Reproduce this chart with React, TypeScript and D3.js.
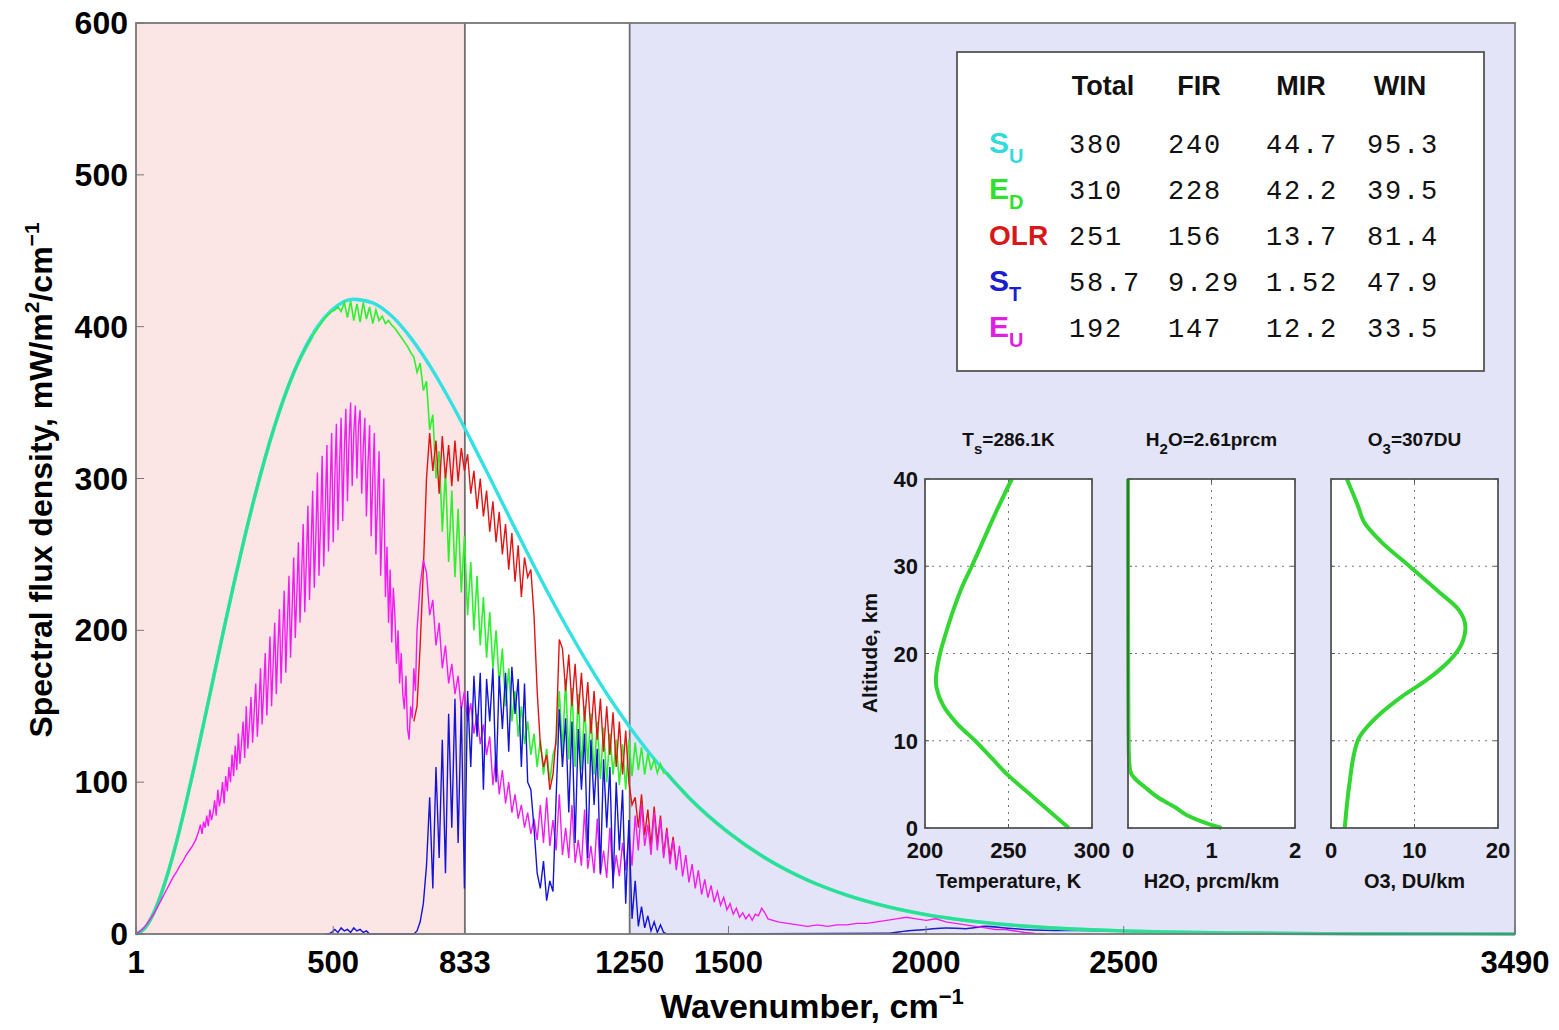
import React from 'react';
import * as d3 from 'd3';

// ---------------- data ----------------
const X_TICKS = [1, 500, 833, 1250, 1500, 2000, 2500, 3490];
const Y_TICKS = [0, 100, 200, 300, 400, 500, 600];
const BAND_EDGES = [1, 833, 1250, 3490];
const BAND_COLORS = ['#fce5e5', '#ffffff', '#e4e4f8'];

// S_U (surface upward), smooth
const SU_NU = [0, 25, 50, 75, 100, 125, 150, 175, 200, 225, 250, 275, 300, 350, 400, 450, 500, 550, 600, 650, 700, 750, 800, 850, 900, 950, 1000, 1050, 1100, 1150, 1200, 1250, 1300, 1400, 1500, 1600, 1700, 1800, 1900, 2000, 2100, 2200, 2300, 2400, 2500, 2600, 2800, 3000, 3200, 3490];
const SU_VAL = [0, 4.4, 16.4, 34.5, 57.2, 83.5, 112.1, 142.1, 172.6, 203.0, 232.4, 260.5, 286.9, 333.3, 369.8, 395.9, 411.7, 418.1, 415.7, 406.5, 391.3, 371.9, 349.2, 324.3, 298.5, 272.3, 246.5, 221.5, 197.9, 175.7, 155.1, 136.4, 119.2, 90.0, 67.0, 49.1, 35.6, 25.6, 18.2, 12.8, 9.0, 6.25, 4.3, 2.97, 2.03, 1.38, 0.63, 0.28, 0.12, 0.04];

// E_D (downward emission)
const ED_LEFT_NU = [0, 25, 50, 75, 100, 125, 150, 175, 200, 225, 250, 275, 300, 350, 400, 448];
const ED_LEFT_VAL = [0, 4.4, 16.3, 34.4, 57.0, 83.3, 111.9, 141.9, 172.3, 202.7, 232.0, 260.1, 286.5, 333.0, 369.5, 394];
const ED_MID_START = 448;
const ED_MID_STEP = 8;
const ED_MID_VAL = [
  394, 397, 400, 403, 406, 408, 410, 411, 413,
  410, 416, 406, 417, 404, 415, 403, 416, 405, 413, 402, 411, 404, 407, 402, 404,
  401, 399, 396, 393, 390, 387, 383,
  380, 370, 376, 358, 364, 332, 342, 300, 318, 265, 305, 245, 292, 235, 280, 225, 262, 210, 245, 200, 236, 190, 222, 182, 212, 175, 200, 165, 188, 150, 175, 140, 160, 130, 150, 125, 140, 118, 132, 110, 128, 105, 122, 100, 118, 125,
  160, 120, 168, 115, 162, 110, 158, 108, 150, 112, 145, 105, 140, 102, 136, 100, 132, 105, 128, 98, 125, 95,
  128, 104, 126, 108, 123, 105, 119, 108, 115, 106, 112, 106, 106,
];
const ED_RIGHT_NU = [1344, 1400, 1500, 1600, 1700, 1800, 1900, 2000, 2100, 2200, 2300, 2400, 2500, 2600, 2800, 3000, 3200, 3490];
const ED_RIGHT_VAL = [106, 89.5, 66.6, 48.8, 35.4, 25.5, 18.1, 12.7, 8.9, 6.2, 4.3, 2.95, 2.0, 1.36, 0.62, 0.27, 0.11, 0.03];

// OLR
const OLR_START = 704;
const OLR_STEP = 8;
const OLR_VAL = [
  140, 150, 190, 240, 300, 330, 305, 325, 290, 328,
  300, 322, 295, 325, 298, 320, 305, 316, 290, 305,
  280, 300, 275, 292, 265, 285, 258, 278, 250, 270,
  240, 264, 232, 256, 222, 248, 235, 240, 210, 160,
  125, 110, 118, 95, 105, 130, 194, 188, 160, 184,
  150, 178, 145, 172, 140, 166, 132, 160, 128, 155,
  120, 150, 118, 146, 110, 140, 105, 134, 100, 85,
  90, 70, 92, 65, 82, 58, 84, 60, 78, 52,
  70, 50, 64, 45,
];

// S_T (transmitted surface flux)
const ST_START = 480;
const ST_STEP = 8;
const ST_VAL = [
  0, 0, 1, 3, 1, 4, 2, 3, 1, 4,
  2, 3, 1, 2, 0, 0, 0, 0, 0, 0,
  0, 0, 0, 0, 0, 0, 0, 0, 0, 2,
  8, 20, 45, 90, 30, 110, 50, 128, 40, 145,
  70, 155, 60, 150, 30, 160, 110, 170, 130, 172,
  95, 168, 140, 175, 100, 170, 135, 172, 120, 176,
  145, 168, 110, 165, 100, 95, 70, 40, 30, 48,
  22, 35, 28, 90, 148, 110, 142, 80, 140, 60,
  135, 95, 132, 50, 128, 85, 122, 40, 115, 70,
  110, 30, 100, 55, 95, 20, 75, 10, 35, 5,
  18, 4, 12, 2, 8, 1, 6, 1, 0,
];
const ST_TAIL_NU = [1344, 1400, 1900, 1950, 2000, 2050, 2100, 2150, 2200, 2250, 2300, 2350, 2400, 2500, 2600, 2800, 3000, 3200, 3490];
const ST_TAIL_VAL = [0, 0, 0.5, 2, 3, 4, 3.5, 5, 4, 3, 2.5, 2.3, 2.4, 1.8, 1.3, 0.6, 0.27, 0.11, 0.03];

// E_U (upward atmospheric emission)
const EU_LOW_START = 0;
const EU_LOW_STEP = 8;
const EU_LOW_VAL = [0, 1, 3, 5, 8, 11, 14, 18, 22, 26, 30, 34, 38, 41, 45, 48, 52, 55, 58, 62];
const EU_FIR_START = 160;
const EU_FIR_STEP = 4;
const EU_FIR_VAL = [
  68, 72, 66, 74, 70, 78, 71, 82, 75, 80,
  88, 78, 95, 84, 90, 100, 86, 104, 94, 110,
  100, 118, 104, 124, 108, 132, 112, 126, 140, 116,
  150, 122, 138, 156, 126, 146, 165, 130, 150, 175,
  138, 160, 185, 144, 170, 196, 150, 178, 205, 158,
  188, 214, 165, 196, 226, 172, 205, 236, 182, 214,
  248, 195, 224, 258, 205, 236, 270, 212, 246, 282,
  220, 256, 292, 228, 262, 304, 236, 270, 315, 242,
  280, 322, 252, 290, 330, 258, 300, 336, 266, 310,
  340, 272, 318, 346, 285, 325, 350, 295, 330, 348,
  300, 335, 345, 290, 320, 340, 275, 310, 335, 262,
  300, 330, 250, 285, 318, 236, 270, 300, 222, 255,
  205, 240, 192, 228, 210, 178, 200, 165, 185, 158,
  148, 170, 135, 128, 150, 142, 175, 160, 200, 215,
];
const EU_MID_START = 720;
const EU_MID_STEP = 8;
const EU_MID_VAL = [
  230, 246, 238, 210, 220, 190, 205, 175, 190, 165,
  178, 158, 170, 148, 160, 140, 152, 132, 145, 125,
  138, 118, 130, 98, 118, 92, 108, 86, 100, 80,
  92, 76, 85, 70, 80, 66, 76, 62, 85, 60,
  90, 58, 75, 55, 92, 52, 70, 50, 85, 47,
  62, 45, 82, 43, 58, 40, 76, 39, 55, 37,
  70, 36, 52, 38, 60, 42, 66, 45, 78, 55,
  85, 58, 72, 52, 80, 55, 76, 50, 68, 46,
  62, 42, 58, 38, 52, 34, 46, 30, 42, 26,
  36, 24, 32, 21, 28, 19, 24, 16, 20, 13,
  17, 11, 14, 10, 13, 9, 13, 12, 17, 14,
  10,
];
const EU_TAIL_START = 1625;
const EU_TAIL_STEP = 25;
const EU_TAIL_VAL = [8, 7, 6, 5, 6, 5, 6, 6, 7, 7, 8, 9, 10, 11, 10, 9, 10, 8, 7, 6, 5, 4, 3, 3, 2, 1, 0.4, 0];

// table
const TABLE_COLS = ['Total', 'FIR', 'MIR', 'WIN'];
const TABLE_ROWS = [
  { main: 'S', sub: 'U', color: '#33dada', vals: ['380', '240', '44.7', '95.3'] },
  { main: 'E', sub: 'D', color: '#2fe02f', vals: ['310', '228', '42.2', '39.5'] },
  { main: 'OLR', sub: '', color: '#d81818', vals: ['251', '156', '13.7', '81.4'] },
  { main: 'S', sub: 'T', color: '#1c1cd0', vals: ['58.7', '9.29', '1.52', '47.9'] },
  { main: 'E', sub: 'U', color: '#e020e0', vals: ['192', '147', '12.2', '33.5'] },
];

// profiles
const T_ALT = [0, 2, 4, 6, 8, 10, 12, 14, 16, 17, 18, 20, 22, 25, 28, 30, 33, 36, 40];
const T_VAL = [286.1, 274, 262, 250, 240, 230, 219, 211, 207, 206.5, 207, 209, 212, 217, 223, 228, 235, 242, 252];
const H2O_ALT = [0, 0.8, 1.5, 2.4, 3.5, 4.7, 5.5, 6.2, 7, 8.5, 12, 20, 40];
const H2O_VAL = [1.12, 0.87, 0.7, 0.56, 0.36, 0.2, 0.1, 0.04, 0.02, 0.01, 0.005, 0.002, 0];
const O3_ALT = [0, 5, 10, 13, 15, 17, 19, 21, 23, 25, 27, 30, 33, 35, 37, 40];
const O3_VAL = [1.65, 2.2, 3.2, 5.8, 8.4, 11.5, 14, 15.6, 16.1, 15.3, 13, 9.4, 5.8, 4.0, 3.2, 1.9];

const INSETS = [
  { x0: 925, domain: [200, 300], ticks: [200, 250, 300], alt: T_ALT, vals: T_VAL, title: ['T', 's', '=286.1K'], label: 'Temperature, K' },
  { x0: 1128, domain: [0, 2], ticks: [0, 1, 2], alt: H2O_ALT, vals: H2O_VAL, title: ['H', '2', 'O=2.61prcm'], label: 'H2O, prcm/km' },
  { x0: 1331, domain: [0, 20], ticks: [0, 10, 20], alt: O3_ALT, vals: O3_VAL, title: ['O', '3', '=307DU'], label: 'O3, DU/km' },
];
const ALT_TICKS = [0, 10, 20, 30, 40];

// ---------------- helpers ----------------
type P = [number, number];
const fromStep = (start: number, step: number, vals: number[]): P[] => vals.map((v, i) => [start + i * step, v]);
const fromPairs = (nu: number[], vals: number[]): P[] => nu.map((n, i) => [n, vals[i]]);

const FONT = '"Liberation Sans", Arial, sans-serif';
const MONO = '"Liberation Mono", "Courier New", monospace';

export default function App() {
  const x = d3.scaleLinear().domain([1, 3490]).range([136, 1515]);
  const y = d3.scaleLinear().domain([0, 600]).range([934, 23]);
  const clampX = (n: number) => Math.max(1, n);

  const lin = d3.line<P>().x(d => x(clampX(d[0]))).y(d => y(d[1]));
  const smooth = d3.line<P>().x(d => x(clampX(d[0]))).y(d => y(d[1])).curve(d3.curveMonotoneX);

  const su = fromPairs(SU_NU, SU_VAL);
  const edLeft = fromPairs(ED_LEFT_NU, ED_LEFT_VAL);
  const edMid = fromStep(ED_MID_START, ED_MID_STEP, ED_MID_VAL);
  const edRight = fromPairs(ED_RIGHT_NU, ED_RIGHT_VAL);
  const olr = fromStep(OLR_START, OLR_STEP, OLR_VAL);
  const st = fromStep(ST_START, ST_STEP, ST_VAL);
  const stTail = fromPairs(ST_TAIL_NU, ST_TAIL_VAL);
  const eu = [
    ...fromStep(EU_LOW_START, EU_LOW_STEP, EU_LOW_VAL),
    ...fromStep(EU_FIR_START, EU_FIR_STEP, EU_FIR_VAL),
    ...fromStep(EU_MID_START, EU_MID_STEP, EU_MID_VAL),
    ...fromStep(EU_TAIL_START, EU_TAIL_STEP, EU_TAIL_VAL),
  ];

  const bands = BAND_COLORS.map((c, i) => ({ c, x0: x(BAND_EDGES[i]), x1: x(BAND_EDGES[i + 1]) }));

  // insets
  const iy = d3.scaleLinear().domain([0, 40]).range([828, 479]);
  const insetW = 167;

  return (
    <svg width={1559} height={1030} style={{ position: 'absolute', left: 0, top: 0, background: '#fff' }}>
      {/* background bands */}
      {bands.map((b, i) => (
        <rect key={i} x={b.x0} y={y(600)} width={b.x1 - b.x0} height={y(0) - y(600)} fill={b.c} />
      ))}
      {[833, 1250].map(v => (
        <line key={v} x1={x(v)} x2={x(v)} y1={y(600)} y2={y(0)} stroke="#6e6e6e" strokeWidth={1.8} />
      ))}

      {/* spectra */}
      <path d={smooth(stTail) || ''} fill="none" stroke="#1c1cc8" strokeWidth={1.6} />
      <path d={smooth(su) || ''} fill="none" stroke="#35e0e0" strokeWidth={3.4} />
      <path d={smooth(edLeft) || ''} fill="none" stroke="#22e060" strokeWidth={3.4} opacity={0.6} />
      <path d={smooth(edRight) || ''} fill="none" stroke="#22e060" strokeWidth={3.4} opacity={0.6} />
      <path d={lin(edMid) || ''} fill="none" stroke="#2ef02e" strokeWidth={1.6} />
      <path d={lin(olr) || ''} fill="none" stroke="#e01414" strokeWidth={1.4} />
      <path d={lin(eu) || ''} fill="none" stroke="#f21cf2" strokeWidth={1.4} />
      <path d={lin(st) || ''} fill="none" stroke="#1414d8" strokeWidth={1.4} />

      {/* frame */}
      <rect x={x(1)} y={y(600)} width={x(3490) - x(1)} height={y(0) - y(600)} fill="none" stroke="#777" strokeWidth={1.8} />
      {X_TICKS.map(t => (
        <g key={t}>
          <line x1={x(t)} x2={x(t)} y1={y(0)} y2={y(0) - 8} stroke="#777" strokeWidth={1} />
          <text x={x(t)} y={y(0) + 39} textAnchor="middle" fontFamily={FONT} fontWeight="bold" fontSize={31} fill="#000">{t}</text>
        </g>
      ))}
      {Y_TICKS.map(t => (
        <g key={t}>
          <line x1={x(1)} x2={x(1) + 8} y1={y(t)} y2={y(t)} stroke="#777" strokeWidth={1} />
          <text x={128} y={y(t) + 11} textAnchor="end" fontFamily={FONT} fontWeight="bold" fontSize={32} fill="#000">{t}</text>
        </g>
      ))}
      <text x={812} y={1018} textAnchor="middle" fontFamily={FONT} fontWeight="bold" fontSize={34} fill="#000">
        Wavenumber, cm<tspan dy={-14} fontSize={22}>−1</tspan>
      </text>
      <text transform="translate(52,480) rotate(-90)" textAnchor="middle" fontFamily={FONT} fontWeight="bold" fontSize={32} fill="#000">
        Spectral flux density, mW/m<tspan dy={-13} fontSize={21}>2</tspan><tspan dy={13}>/cm</tspan><tspan dy={-13} fontSize={21}>−1</tspan>
      </text>

      {/* table */}
      <rect x={957} y={52} width={527} height={319} fill="#fff" stroke="#555" strokeWidth={1.8} />
      {TABLE_COLS.map((c, i) => (
        <text key={c} x={[1103, 1199, 1301, 1400][i]} y={95} textAnchor="middle" fontFamily={FONT} fontWeight="bold" fontSize={27} fill="#111">{c}</text>
      ))}
      {TABLE_ROWS.map((r, i) => {
        const by = 153 + i * 46;
        return (
          <g key={i}>
            <text x={989} y={by} fontFamily={FONT} fontWeight="bold" fontSize={r.sub ? 30 : 28} fill={r.color}>
              {r.main}
              {r.sub && <tspan dy={10} fontSize={20}>{r.sub}</tspan>}
            </text>
            {r.vals.map((v, j) => (
              <text key={j} x={[1069, 1168, 1266, 1367][j]} y={by} fontFamily={MONO} fontSize={27} letterSpacing={1.8} fill="#111">{v}</text>
            ))}
          </g>
        );
      })}

      {/* insets */}
      {INSETS.map((ins, k) => {
        const ix = d3.scaleLinear().domain(ins.domain).range([ins.x0, ins.x0 + insetW]);
        const pts: P[] = ins.alt.map((a, i) => [ins.vals[i], a]);
        const line = d3.line<P>().x(d => ix(d[0])).y(d => iy(d[1])).curve(d3.curveMonotoneY);
        const cx = ins.x0 + insetW / 2;
        return (
          <g key={k}>
            <rect x={ins.x0} y={iy(40)} width={insetW} height={iy(0) - iy(40)} fill="#fff" />
            {[10, 20, 30].map(a => (
              <line key={a} x1={ins.x0} x2={ins.x0 + insetW} y1={iy(a)} y2={iy(a)} stroke="#777" strokeWidth={1} strokeDasharray="2,5" />
            ))}
            <line x1={ix(ins.ticks[1])} x2={ix(ins.ticks[1])} y1={iy(0)} y2={iy(40)} stroke="#777" strokeWidth={1} strokeDasharray="2,5" />
            {ALT_TICKS.map(a => (
              <g key={a}>
                <line x1={ins.x0} x2={ins.x0 + 4} y1={iy(a)} y2={iy(a)} stroke="#555" />
                <line x1={ins.x0 + insetW - 4} x2={ins.x0 + insetW} y1={iy(a)} y2={iy(a)} stroke="#555" />
              </g>
            ))}
            {ins.ticks.map(t => (
              <g key={t}>
                <line x1={ix(t)} x2={ix(t)} y1={iy(0)} y2={iy(0) - 4} stroke="#555" />
                <line x1={ix(t)} x2={ix(t)} y1={iy(40)} y2={iy(40) + 4} stroke="#555" />
                <text x={ix(t)} y={iy(0) + 30} textAnchor="middle" fontFamily={FONT} fontWeight="bold" fontSize={22} fill="#111">{t}</text>
              </g>
            ))}
            <path d={line(pts) || ''} fill="none" stroke="#33d633" strokeWidth={4} />
            <rect x={ins.x0} y={iy(40)} width={insetW} height={iy(0) - iy(40)} fill="none" stroke="#555" strokeWidth={1.8} />
            <text x={cx} y={446} textAnchor="middle" fontFamily={FONT} fontWeight="bold" fontSize={19} fill="#111">
              {ins.title[0]}<tspan dy={8} fontSize={15}>{ins.title[1]}</tspan><tspan dy={-8}>{ins.title[2]}</tspan>
            </text>
            <text x={cx} y={888} textAnchor="middle" fontFamily={FONT} fontWeight="bold" fontSize={20} fill="#111">{ins.label}</text>
            {k === 0 && ALT_TICKS.map(a => (
              <text key={a} x={918} y={iy(a) + 8} textAnchor="end" fontFamily={FONT} fontWeight="bold" fontSize={22} fill="#111">{a}</text>
            ))}
          </g>
        );
      })}
      <text transform="translate(877,653) rotate(-90)" textAnchor="middle" fontFamily={FONT} fontWeight="bold" fontSize={21} fill="#111">Altitude, km</text>
    </svg>
  );
}
